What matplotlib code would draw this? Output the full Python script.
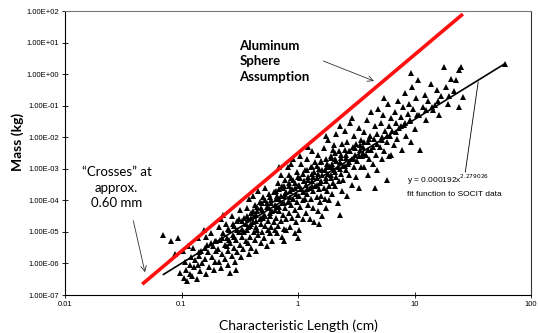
import matplotlib
matplotlib.use("Agg")
import matplotlib.pyplot as plt
import numpy as np

# SOCIT data points as log10(length cm), log10(mass kg)
log_length = [
    -1.16, -1.09, -1.06, -1.03, -1.01, -0.99, -0.98, -0.97, -0.96, -0.95, -0.94, -0.93, -0.93, -0.92,
    -0.91, -0.90, -0.89, -0.88, -0.87, -0.86, -0.85, -0.84, -0.83, -0.82, -0.81, -0.80, -0.79,
    -0.78, -0.77, -0.76, -0.75, -0.74, -0.73, -0.72, -0.71, -0.71, -0.70, -0.86, -0.79,
    -0.69, -0.68, -0.68, -0.67, -0.66, -0.66, -0.65, -0.64, -0.63, -0.63, -0.62, -0.61, -0.60, -0.60,
    -0.59, -0.58, -0.57, -0.57, -0.56, -0.55, -0.55, -0.54, -0.53, -0.52, -0.52, -0.51, -0.50, -0.50,
    -0.49, -0.48, -0.48, -0.47, -0.46, -0.46, -0.45, -0.45, -0.64, -0.53, -0.58, -0.61,
    -0.44, -0.44, -0.43, -0.43, -0.42, -0.42, -0.41, -0.41, -0.40, -0.40, -0.39, -0.39, -0.38, -0.38,
    -0.37, -0.37, -0.36, -0.36, -0.35, -0.35, -0.34, -0.34, -0.33, -0.33, -0.32, -0.32, -0.31, -0.31,
    -0.30, -0.30, -0.29, -0.29, -0.28, -0.28, -0.27, -0.27, -0.26, -0.26, -0.25, -0.25, -0.24, -0.24,
    -0.23, -0.23, -0.22, -0.22, -0.21, -0.21, -0.20, -0.20,
    -0.19, -0.19, -0.18, -0.18, -0.17, -0.17, -0.16, -0.16, -0.15, -0.15, -0.14, -0.14, -0.13, -0.13,
    -0.12, -0.12, -0.11, -0.11, -0.10, -0.10, -0.09, -0.09, -0.08, -0.08, -0.07, -0.07, -0.06, -0.06,
    -0.05, -0.05, -0.04, -0.04, -0.03, -0.03, -0.02, -0.02, -0.01, -0.01, 0.00, 0.00, 0.01, 0.01,
    0.02, 0.02, 0.03, 0.03, 0.04, 0.04, 0.05, 0.05, -0.16, -0.12, -0.06, 0.00, -0.18, -0.10, -0.03,
    0.02, -0.14, -0.08,
    0.06, 0.06, 0.07, 0.07, 0.08, 0.08, 0.09, 0.09, 0.10, 0.10, 0.11, 0.11, 0.12, 0.12, 0.13, 0.13,
    0.14, 0.14, 0.15, 0.15, 0.16, 0.16, 0.17, 0.17, 0.18, 0.18, 0.19, 0.19, 0.20, 0.20, 0.21, 0.21,
    0.22, 0.22, 0.23, 0.23, 0.24, 0.24, 0.25, 0.25, 0.26, 0.26, 0.27, 0.27, 0.28, 0.28, 0.29, 0.29,
    0.30, 0.30, 0.09, 0.18, 0.24, 0.12, 0.27,
    0.31, 0.31, 0.32, 0.32, 0.33, 0.33, 0.34, 0.34, 0.35, 0.35, 0.36, 0.36, 0.37, 0.37, 0.38, 0.38,
    0.39, 0.39, 0.40, 0.40, 0.41, 0.41, 0.42, 0.42, 0.43, 0.44, 0.44, 0.45, 0.46, 0.46, 0.47, 0.48,
    0.48, 0.49, 0.50, 0.50, 0.51, 0.52, 0.52, 0.53, 0.54, 0.54, 0.55, 0.46, 0.36,
    0.56, 0.57, 0.57, 0.58, 0.59, 0.60, 0.60, 0.61, 0.62, 0.63, 0.63, 0.64, 0.65, 0.66, 0.67, 0.68,
    0.68, 0.69, 0.70, 0.71, 0.72, 0.72, 0.73, 0.74, 0.75, 0.76, 0.76, 0.77, 0.78, 0.78, 0.79, 0.80,
    0.80, 0.66, 0.74,
    0.81, 0.82, 0.83, 0.84, 0.85, 0.86, 0.87, 0.88, 0.89, 0.90, 0.91, 0.92, 0.93, 0.94, 0.95, 0.96,
    0.97, 0.98, 0.99, 1.00, 1.01, 1.02, 1.03, 1.05, 0.97,
    1.07, 1.09, 1.10, 1.12, 1.14, 1.16, 1.18, 1.19, 1.21, 1.23, 1.25, 1.27, 1.29, 1.31, 1.34, 1.36,
    1.38, 1.38, 1.40, 1.42, 1.78,
    # dense core close to the fit line
    -0.60, -0.59, -0.56, -0.55, -0.52, -0.51, -0.48, -0.47, -0.44, -0.43, -0.40, -0.39, -0.40,
    -0.36, -0.35, -0.36, -0.32, -0.31, -0.32, -0.28, -0.27, -0.28, -0.24, -0.23, -0.24,
    -0.20, -0.19, -0.20, -0.16, -0.15, -0.16, -0.12, -0.11, -0.12, -0.08, -0.07, -0.08,
    -0.04, -0.03, -0.04, 0.00, 0.01, 0.00, 0.04, 0.05, 0.04, 0.08, 0.09, 0.08, 0.12, 0.13, 0.12,
    0.16, 0.17, 0.16, 0.20, 0.21, 0.20, 0.24, 0.25, 0.24, 0.28, 0.29, 0.28, 0.32, 0.33, 0.32,
    0.36, 0.37, 0.40, 0.41, 0.44, 0.45, 0.48, 0.49, 0.52, 0.53, 0.56, 0.57, 0.60, 0.61,
    0.64, 0.68, 0.72, 0.76, 0.84, 0.88, 0.92, 0.96, 1.04, 1.10, 1.15, 1.20, 1.30,
    -0.85, -0.80, -0.75, -0.70, -0.65,
]
log_mass = [
    -5.10, -5.30, -5.70, -5.20, -6.30, -5.60, -6.45, -5.95, -6.20, -6.55, -5.45, -6.05, -6.35, -5.80,
    -6.40, -5.50, -6.10, -5.90, -6.50, -5.20, -5.75, -6.25, -5.60, -6.00, -4.95, -5.85, -6.35,
    -5.40, -5.65, -6.10, -5.05, -5.80, -5.45, -6.20, -5.30, -5.95, -5.60, -6.05, -5.15,
    -5.55, -4.85, -5.95, -5.25, -6.15, -4.60, -5.70, -5.05, -5.40, -5.85, -4.75, -5.20, -5.60, -6.05,
    -4.95, -5.35, -4.50, -5.75, -5.10, -5.50, -4.80, -5.95, -5.25, -4.65, -5.65, -5.00, -5.40, -4.30,
    -5.80, -4.90, -5.15, -5.55, -4.55, -5.00, -5.30, -4.75, -4.45, -6.20, -6.30, -5.45,
    -4.95, -4.25, -5.35, -4.60, -5.70, -3.95, -4.80, -5.15, -4.40, -5.50, -4.70, -3.85, -5.00, -4.50,
    -5.25, -4.15, -4.85, -5.60, -4.35, -4.95, -3.70, -5.10, -4.60, -4.05, -5.35, -4.75, -4.30, -5.00,
    -4.55, -3.90, -5.20, -4.45, -4.80, -3.60, -4.10, -5.45, -4.65, -4.95, -4.25, -3.80, -5.05, -4.50,
    -4.00, -4.85, -5.30, -4.35, -3.75, -4.70, -4.15, -4.95,
    -4.55, -3.70, -5.05, -4.20, -3.45, -4.80, -4.35, -3.95, -4.65, -3.20, -4.10, -5.15, -3.60, -4.45,
    -3.85, -4.90, -4.25, -3.35, -4.60, -3.75, -4.05, -2.95, -4.40, -3.55, -4.85, -3.90, -4.15, -3.30,
    -4.55, -3.65, -3.95, -2.70, -4.30, -3.45, -4.70, -3.80, -4.05, -3.10, -4.45, -3.55, -3.85, -4.95,
    -3.30, -4.20, -3.65, -2.85, -4.00, -4.60, -3.40, -3.75, -2.95, -5.30, -2.85, -5.20, -3.85, -4.95, -5.05,
    -2.60, -3.55, -3.20,
    -3.95, -3.05, -4.40, -3.50, -2.70, -3.80, -4.15, -3.25, -4.60, -3.60, -2.95, -3.95, -3.40, -2.45, -4.25, -3.70,
    -3.10, -4.70, -3.55, -2.80, -3.90, -3.30, -4.35, -2.55, -3.65, -3.00, -4.05, -3.45, -2.75, -3.85, -3.20, -4.50,
    -3.60, -2.35, -3.95, -3.05, -3.40, -4.25, -2.85, -3.70, -3.15, -2.10, -3.55, -4.00, -2.65, -3.30, -3.80, -2.95,
    -3.45, -2.40, -2.30, -4.75, -1.95, -3.15, -2.90,
    -3.05, -2.25, -3.55, -2.70, -1.90, -3.25, -2.95, -4.10, -2.45, -3.40, -2.80, -1.65, -3.15, -2.55, -3.70, -2.20,
    -2.90, -3.35, -2.40, -1.80, -3.05, -2.65, -3.85, -2.15, -2.85, -3.20, -2.45, -1.55, -2.70, -3.50, -2.30, -2.95,
    -1.95, -2.55, -3.25, -2.20, -2.75, -1.70, -3.60, -2.40, -2.95, -2.10, -2.60, -1.40, -4.45,
    -2.30, -1.85, -2.95, -2.55, -1.45, -2.15, -3.20, -2.70, -1.95, -2.40, -1.20, -2.85, -2.05, -1.65, -2.55, -3.05,
    -1.90, -1.10, -2.30, -1.55, -2.70, -2.00, -1.30, -2.45, -1.80, -3.35, -2.15, -0.95, -1.65, -2.60, -1.95, -1.40,
    -2.56, -3.60, -0.75,
    -1.80, -2.25, -1.20, -1.55, -2.05, -0.85, -1.70, -1.35, -2.40, -1.05, -1.60, -0.60, -1.95, -1.25, -0.95, -1.50,
    -2.15, -0.40, -1.10, -1.75, -0.75, -1.30, -0.20, -2.40, 0.05,
    -1.05, -0.65, -1.45, -0.85, -0.30, -1.15, -0.98, -0.50, -1.30, -0.70, 0.23, -0.40, -0.95, -0.15, -0.55, -0.19,
    0.13, -1.04, 0.23, -0.73, 0.33,
    -4.90, -5.25, -4.75, -5.15, -4.95, -4.60, -4.65, -5.00, -4.50, -4.85, -4.75, -4.35, -4.55,
    -4.65, -4.20, -4.45, -4.55, -4.10, -4.25, -4.50, -4.20, -4.00, -4.40, -4.10, -3.90,
    -4.30, -3.95, -3.75, -4.20, -3.85, -3.65, -4.10, -3.80, -3.55, -4.05, -3.70, -3.45,
    -3.95, -3.60, -3.35, -3.85, -3.50, -3.25, -3.75, -3.40, -3.15, -3.65, -3.35, -3.05, -3.55, -3.25, -2.95,
    -3.50, -3.15, -2.90, -3.40, -3.05, -2.80, -3.30, -2.95, -2.70, -3.20, -2.85, -2.60, -3.10, -2.75, -2.50,
    -3.00, -2.65, -2.90, -2.55, -2.80, -2.45, -2.70, -2.35, -2.60, -2.25, -2.50, -2.15, -2.40, -2.05,
    -2.30, -2.20, -2.10, -1.95, -1.85, -1.65, -1.55, -1.45, -1.30, -1.15, -1.05, -0.85, -0.70,
    -5.65, -5.50, -5.35, -5.30, -5.20,
]

# aluminum sphere line ends and fit function range
sphere_length = [0.046, 26.0]
sphere_mass = [2.2e-7, 80.0]
fit_coef = 0.000192
fit_exp = 2.279026
fit_length = [0.07, 60.0]

x_ticks = [0.01, 0.1, 1, 10, 100]
x_labels = ['0.01', '0.1', '1', '10', '100']
y_ticks = [1e-7, 1e-6, 1e-5, 1e-4, 1e-3, 1e-2, 1e-1, 1e0, 1e1, 1e2]
y_labels = ['1.00E-07', '1.00E-06', '1.00E-05', '1.00E-04', '1.00E-03',
            '1.00E-02', '1.00E-01', '1.00E+00', '1.00E+01', '1.00E+02']

length = 10 ** np.array(log_length)
mass = 10 ** np.array(log_mass)

fig = plt.figure(figsize=(5.38, 3.33), dpi=100)
ax = fig.add_axes([65 / 538, 38 / 333, 466 / 538, 284 / 333])
ax.set_xscale('log')
ax.set_yscale('log')
ax.set_xlim(0.01, 100)
ax.set_ylim(1e-7, 1e2)

ax.plot(length, mass, linestyle='none', marker='^', ms=4.4, color='black', mew=0)
fit_mass = [fit_coef * v ** fit_exp for v in fit_length]
ax.plot(fit_length, fit_mass, color='black', lw=1.2)
ax.plot(sphere_length, sphere_mass, color='#ff1010', lw=2.6, solid_capstyle='butt')

ax.set_xticks(x_ticks)
ax.set_xticklabels(x_labels, fontsize=5.5, family='Liberation Sans')
ax.set_yticks(y_ticks)
ax.set_yticklabels(y_labels, fontsize=5.5, family='Liberation Sans')
ax.minorticks_off()
ax.tick_params(direction='inout', length=4, width=0.6, pad=2)
for s in ax.spines.values():
    s.set_linewidth(0.8)
ax.spines['top'].set_color('#777777')
ax.spines['right'].set_color('#333333')

ax.set_xlabel('Characteristic Length (cm)', fontsize=10, family='Lato')
ax.set_ylabel('Mass (kg)', fontsize=10, family='Lato', fontweight='bold')
ax.yaxis.set_label_coords(-0.088, 0.54)
ax.xaxis.set_label_coords(0.5, -0.085)

ax.text(0.313, 2.6, 'Aluminum\nSphere\nAssumption', fontsize=9.5, family='Lato',
        fontweight='bold', ha='left', va='center', linespacing=1.35)
ax.annotate('', xy=(4.73, 0.56), xytext=(1.57, 2.8),
            arrowprops=dict(arrowstyle='->', color='#333333', lw=0.6))

ax.text(0.0278, 2.47e-4, '\u201cCrosses\u201d at\napprox.\n0.60 mm', fontsize=9.5,
        family='Lato', ha='center', va='center', linespacing=1.35)
ax.annotate('', xy=(0.0492, 4.3e-7), xytext=(0.0381, 2.76e-5),
            arrowprops=dict(arrowstyle='->', color='#333333', lw=0.6))

ax.text(8.7, 4.4e-4, r'y = 0.000192x$^{2.279026}$', fontsize=6, family='Liberation Sans',
        ha='left', va='center')
ax.text(8.7, 1.48e-4, 'fit function to SOCIT data', fontsize=6, family='Liberation Sans',
        ha='left', va='center')
ax.plot([27.3, 35.2], [7.9e-4, 0.56], color='black', lw=0.6)

fig.savefig('out.png', dpi=100)
